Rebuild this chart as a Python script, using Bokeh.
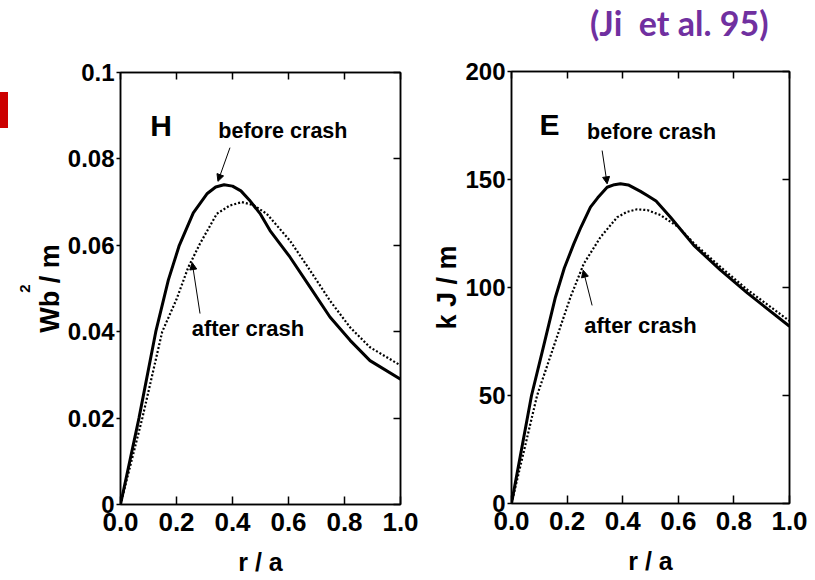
from bokeh.embed import file_html
from bokeh.layouts import column, row
from bokeh.models import (Arrow, FixedTicker, Label, LinearAxis, NormalHead,
                          NumeralTickFormatter, Range1d, Spacer)
from bokeh.plotting import figure
from bokeh.resources import INLINE

# ---- helicity density H (Wb^2/m) versus r/a ----
r_h_before = [0, 0.066, 0.126, 0.171, 0.21, 0.26, 0.31, 0.34, 0.37, 0.40, 0.43,
              0.46, 0.50, 0.534, 0.605, 0.677, 0.748, 0.82, 0.891, 1.0]
h_before = [0, 0.020, 0.040, 0.052, 0.060, 0.0675, 0.0720, 0.0735, 0.0740, 0.0737,
            0.0726, 0.0705, 0.0672, 0.0634, 0.0573, 0.0503, 0.0434, 0.0380, 0.0333, 0.0290]
r_h_after = [0, 0.078, 0.149, 0.2, 0.242, 0.284, 0.344, 0.39, 0.433, 0.475, 0.522,
             0.605, 0.677, 0.748, 0.82, 0.891, 1.0]
h_after = [0, 0.020, 0.040, 0.0475, 0.0549, 0.0604, 0.0673, 0.0692, 0.0700, 0.0693,
           0.0673, 0.0611, 0.0542, 0.0472, 0.0410, 0.0364, 0.0322]

# ---- magnetic energy density E (kJ/m) versus r/a ----
r_e_before = [0, 0.072, 0.11, 0.158, 0.19, 0.224, 0.25, 0.284, 0.31, 0.344, 0.37,
              0.392, 0.42, 0.464, 0.49, 0.52, 0.572, 0.656, 0.752, 0.848, 1.0]
e_before = [0, 50, 70, 95.5, 109, 120.2, 128, 137.2, 141.5, 146.4, 147.6,
            148.0, 147.5, 144.5, 142.5, 140.0, 132.5, 119.5, 108.0, 97.5, 82.0]
r_e_after = [0, 0.092, 0.212, 0.26, 0.32, 0.38, 0.415, 0.452, 0.49, 0.536, 0.6,
             0.656, 0.752, 0.848, 1.0]
e_after = [0, 50, 95.5, 111, 123.3, 132.5, 135.0, 136.2, 135.8, 133.5, 128.0,
           120.5, 109.5, 99.0, 84.5]

# ---- axes ----
x_ticks = [0, 0.2, 0.4, 0.6, 0.8, 1.0]
h_ticks = [0, 0.02, 0.04, 0.06, 0.08, 0.1]
h_tick_labels = ["0", "0.02", "0.04", "0.06", "0.08", "0.1"]
e_ticks = [0, 50, 100, 150, 200]
e_tick_labels = ["0", "50", "100", "150", "200"]

# annotation arrows: (x_start, y_start, x_end, y_end)
h_before_arrow = (0.391, 0.0826, 0.348, 0.0748)
h_after_arrow = (0.284, 0.0442, 0.256, 0.0560)
e_before_arrow = (0.326, 163.4, 0.344, 148.0)
e_after_arrow = (0.29, 91.7, 0.258, 108.0)

SANS = "Liberation Sans"
FRAME_H = 432


def make_panel(width, height, border_left, frame_w, border_top, y_max, ticks,
               tick_labels, y_label):
    p = figure(width=width, height=height, output_backend="svg", toolbar_location=None,
               x_range=Range1d(0, 1), y_range=Range1d(0, y_max),
               x_axis_location=None, y_axis_location=None,
               min_border_left=border_left, min_border_right=width - border_left - frame_w,
               min_border_top=border_top, min_border_bottom=height - border_top - FRAME_H)
    p.grid.visible = False
    p.outline_line_color = "black"
    p.outline_line_width = 1.5
    p.background_fill_color = "white"
    p.border_fill_color = "white"

    bottom = LinearAxis(ticker=FixedTicker(ticks=x_ticks),
                        formatter=NumeralTickFormatter(format="0.0"),
                        axis_label="r / a")
    bottom.major_tick_in = 8
    bottom.major_tick_out = 0
    bottom.major_label_standoff = 8
    bottom.major_label_text_font_size = "26px"
    bottom.axis_label_text_font_size = "25px"
    bottom.axis_label_standoff = 14
    p.add_layout(bottom, "below")

    left = LinearAxis(ticker=FixedTicker(ticks=ticks),
                      major_label_overrides=dict(zip(ticks, tick_labels)),
                      axis_label=y_label)
    left.major_tick_in = 0
    left.major_tick_out = 4
    left.major_label_standoff = 2
    left.major_label_text_font_size = "24px"
    left.axis_label_text_font_size = "27px"
    left.axis_label_standoff = 0
    p.add_layout(left, "left")

    for loc, tk in (("above", x_ticks), ("right", ticks)):
        ax = LinearAxis(ticker=FixedTicker(ticks=tk))
        ax.major_tick_in = 7
        ax.major_tick_out = 0
        ax.major_label_text_color = None
        ax.major_label_text_font_size = "1px"
        ax.major_label_standoff = 0
        p.add_layout(ax, loc)

    for ax in p.axis:
        ax.axis_line_color = "black"
        ax.axis_line_width = 1.5
        ax.major_tick_line_color = "black"
        ax.major_tick_line_width = 1.5
        ax.minor_tick_line_color = None
        ax.major_label_text_font = SANS
        ax.major_label_text_font_style = "bold"
        ax.axis_label_text_font = SANS
        ax.axis_label_text_font_style = "bold"
        ax.major_label_text_color = ax.major_label_text_color and "black"
        ax.axis_label_text_color = "black"
    return p


def add_arrow(p, coords):
    xs, ys, xe, ye = coords
    p.add_layout(Arrow(end=NormalHead(size=7, fill_color="black", line_color="black"),
                       x_start=xs, y_start=ys, x_end=xe, y_end=ye,
                       line_color="black", line_width=1))


def add_text(p, x, y, text, size):
    p.add_layout(Label(x=x, y=y, text=text, text_font=SANS, text_font_style="bold",
                       text_font_size=size, text_color="black",
                       text_align="center", text_baseline="middle"))


# ---------------- H panel ----------------
p1 = make_panel(412, 580, 112, 280, 72, 0.1, h_ticks, h_tick_labels, "Wb / m")
p1.line(r_h_before, h_before, line_color="black", line_width=3)
p1.line(r_h_after, h_after, line_color="black", line_width=2.2, line_dash="2 2")
add_arrow(p1, h_before_arrow)
add_arrow(p1, h_after_arrow)
add_text(p1, 0.145, 0.0877, "H", "30px")
add_text(p1, 0.58, 0.0864, "before crash", "21.5px")
add_text(p1, 0.455, 0.0407, "after crash", "22px")

# the squared exponent of the unit, set beside the axis title
sq = LinearAxis(ticker=FixedTicker(ticks=[]), axis_label="2")
sq.axis_line_color = None
sq.major_tick_out = 0
sq.major_tick_in = 0
sq.major_label_standoff = 0
sq.major_label_text_font_size = "1px"
sq.axis_label_standoff = 2
sq.axis_label_text_font = SANS
sq.axis_label_text_font_style = "bold"
sq.axis_label_text_font_size = "15px"
sq.axis_label_text_color = "black"
p1.add_layout(sq, "left")

# ---------------- E panel ----------------
p2 = make_panel(395, 530, 91, 278, 21, 200, e_ticks, e_tick_labels, "k J / m")
p2.line(r_e_before, e_before, line_color="black", line_width=3)
p2.line(r_e_after, e_after, line_color="black", line_width=2.2, line_dash="2 2")
add_arrow(p2, e_before_arrow)
add_arrow(p2, e_after_arrow)
add_text(p2, 0.137, 175.5, "E", "30px")
add_text(p2, 0.504, 172.2, "before crash", "21.5px")
add_text(p2, 0.464, 82.4, "after crash", "22px")

# ---------------- citation strip above the E panel ----------------
# its frame lines up with the E panel's frame below it
cite = figure(width=395, height=50, output_backend="svg", toolbar_location=None,
              x_range=Range1d(0, 1), y_range=Range1d(0, 1),
              x_axis_location=None, y_axis_location=None,
              min_border=0, outline_line_color=None)
cite.grid.visible = False
cite.background_fill_color = "white"
cite.border_fill_color = "white"
cite.add_layout(Label(x=257, y=28, x_units="screen", y_units="screen",
                      text="(Ji\u00a0 et al. 95)", text_font="Lato", text_font_style="bold",
                      text_font_size="34px", text_color="#7030a0",
                      text_align="right", text_baseline="middle"))

# red slide marker at the left edge
marker = column(Spacer(width=8, height=92),
                Spacer(width=8, height=36, styles={"background-color": "#cc0000"}),
                Spacer(width=8, height=452))

layout = row(marker, p1, column(cite, p2, spacing=0), spacing=0)
open("out.html", "w").write(file_html(layout, INLINE))
